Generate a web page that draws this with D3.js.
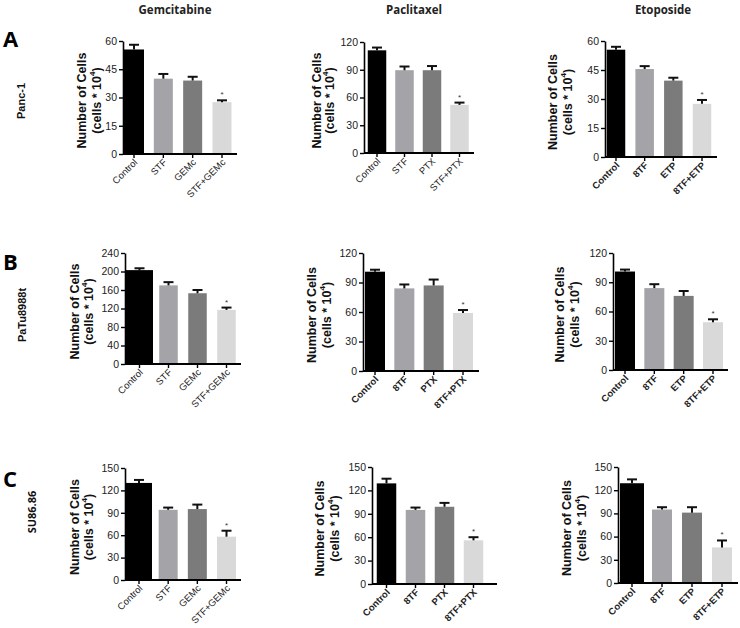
<!DOCTYPE html>
<html>
<head>
<meta charset="utf-8">
<script src="https://cdn.jsdelivr.net/npm/d3@7"></script>
<style>
  html, body { margin: 0; padding: 0; background: #fff; }
  svg { display: block; }
</style>
</head>
<body>
<svg id="chart" width="740" height="628"></svg>
<script>
// ---------- DATA ----------
const drugs = ["Gemcitabine", "Paclitaxel", "Etoposide"];
const cellLines = ["Panc-1", "PaTu8988t", "SU86.86"];
const rowLetters = ["A", "B", "C"];

const catsGemc = ["Control", "STF", "GEMc", "STF+GEMc"];
const catsPtxA = ["Control", "STF", "PTX", "STF+PTX"];
const catsPtx = ["Control", "8TF", "PTX", "8TF+PTX"];
const catsEtp = ["Control", "8TF", "ETP", "8TF+ETP"];

const ticksA = [[0, 15, 30, 45, 60], [0, 30, 60, 90, 120], [0, 15, 30, 45, 60]];
const ticksB = [[0, 40, 80, 120, 160, 200, 240], [0, 30, 60, 90, 120], [0, 30, 60, 90, 120]];
const ticksC = [[0, 30, 60, 90, 120, 150], [0, 30, 60, 90, 120, 150], [0, 30, 60, 90, 120, 150]];

const panc1Gemc = [55.5, 40, 39, 27.5];
const panc1GemcErr = [2.5, 2.5, 2, 1];
const panc1Ptx = [111, 89.5, 89.5, 52];
const panc1PtxErr = [3, 4, 4.5, 2.5];
const panc1Etp = [55.5, 45.5, 39.5, 27.5];
const panc1EtpErr = [1.5, 1.5, 1.5, 2];

const patuGemc = [203, 170, 153, 117];
const patuGemcErr = [4, 7, 7, 5];
const patuPtx = [101, 84, 87, 59];
const patuPtxErr = [2, 4, 6, 3];
const patuEtp = [101, 84, 76, 49];
const patuEtpErr = [2, 4, 5, 3];

const suGemc = [130, 94, 95, 58];
const suGemcErr = [4, 3, 6, 8];
const suPtx = [129, 95, 99, 56];
const suPtxErr = [6, 3, 5, 4];
const suEtp = [129, 95, 91, 46];
const suEtpErr = [5, 3, 7, 9];

const significant = [false, false, false, true];

// ---------- STYLE / LAYOUT ----------
const barColors = ["#000000", "#a3a3a8", "#7b7b7b", "#d9d9d9"];

const layouts = [
  [ {ax:123, top:41, bot:154, c0:134, c3:222, bw:19, cw:20, xe:237, l1:-41, l2:-26},
    {ax:364, top:42, bot:153, c0:377, c3:459.5, bw:18.5, cw:18.5, xe:474, l1:-47, l2:-34},
    {ax:605, top:41, bot:157, c0:616, c3:702, bw:18.5, cw:18.5, xe:717, l1:-52, l2:-37} ],
  [ {ax:125, top:253, bot:364, c0:139.5, c3:226.5, bw:18.5, cw:27, xe:241, l1:-50, l2:-36},
    {ax:363, top:253, bot:371, c0:375, c3:463, bw:20, cw:20, xe:479, l1:-51, l2:-36},
    {ax:613, top:253, bot:370, c0:625, c3:713, bw:20, cw:20, xe:728, l1:-53, l2:-38} ],
  [ {ax:125, top:468, bot:580, c0:139, c3:226.5, bw:19, cw:26, xe:241, l1:-50, l2:-36},
    {ax:372, top:467, bot:584, c0:386.5, c3:473.5, bw:19.5, cw:19.5, xe:497, l1:-52, l2:-37},
    {ax:618, top:467, bot:583, c0:632, c3:722, bw:20, cw:24, xe:738, l1:-51, l2:-36} ]
];

const panels = [
  [ {cats: catsGemc, vals: panc1Gemc, errs: panc1GemcErr, ticks: ticksA[0]},
    {cats: catsPtxA, vals: panc1Ptx, errs: panc1PtxErr, ticks: ticksA[1]},
    {cats: catsEtp, vals: panc1Etp, errs: panc1EtpErr, ticks: ticksA[2]} ],
  [ {cats: catsGemc, vals: patuGemc, errs: patuGemcErr, ticks: ticksB[0]},
    {cats: catsPtx, vals: patuPtx, errs: patuPtxErr, ticks: ticksB[1]},
    {cats: catsEtp, vals: patuEtp, errs: patuEtpErr, ticks: ticksB[2]} ],
  [ {cats: catsGemc, vals: suGemc, errs: suGemcErr, ticks: ticksC[0]},
    {cats: catsPtx, vals: suPtx, errs: suPtxErr, ticks: ticksC[1]},
    {cats: catsEtp, vals: suEtp, errs: suEtpErr, ticks: ticksC[2]} ]
];

const svg = d3.select("#chart");
const font = "'Liberation Sans', Arial, sans-serif";

// column headers
const headerX = [175, 414, 663];
svg.selectAll("text.header").data(drugs).join("text")
  .attr("class", "header")
  .attr("x", (d, i) => headerX[i]).attr("y", 14)
  .attr("text-anchor", "middle")
  .attr("font-family", "'Open Sans', sans-serif")
  .attr("font-weight", 700).attr("font-size", 11.5)
  .attr("fill", "#222")
  .text(d => d);

// row letters and cell line labels
const letterY = [47, 270, 487];
const rowLabelY = [101, 315, 512];
const rowLabelX = [21, 22, 31];
svg.selectAll("text.letter").data(rowLetters).join("text")
  .attr("class", "letter")
  .attr("x", 3).attr("y", (d, i) => letterY[i])
  .attr("font-family", "'Open Sans', sans-serif")
  .attr("font-weight", 700).attr("font-size", 22)
  .attr("fill", "#000")
  .text(d => d);
svg.selectAll("text.rowlabel").data(cellLines).join("text")
  .attr("class", "rowlabel")
  .attr("transform", (d, i) => `translate(${rowLabelX[i]},${rowLabelY[i]}) rotate(-90)`)
  .attr("text-anchor", "middle")
  .attr("dominant-baseline", "central")
  .attr("font-family", (d, i) => i === 2 ? "'Open Sans', sans-serif" : font)
  .attr("font-weight", 700).attr("font-size", 11)
  .attr("fill", "#111")
  .text(d => d);

panels.forEach((row, ri) => {
  row.forEach((p, ci) => {
    const L = layouts[ri][ci];
    const g = svg.append("g");
    const yMax = d3.max(p.ticks);
    const y = d3.scaleLinear().domain([0, yMax]).range([L.bot, L.top]);
    const x = d3.scalePoint().domain(p.cats).range([L.c0, L.c3]);
    const widthOf = (i) => i === 0 ? L.cw : L.bw;

    g.selectAll("rect.bar").data(p.vals).join("rect")
      .attr("x", (d, i) => x(p.cats[i]) - widthOf(i) / 2)
      .attr("width", (d, i) => widthOf(i))
      .attr("y", d => y(d))
      .attr("height", d => y(0) - y(d))
      .attr("fill", (d, i) => barColors[i]);

    g.selectAll("line.err").data(p.vals).join("line")
      .attr("x1", (d, i) => x(p.cats[i])).attr("x2", (d, i) => x(p.cats[i]))
      .attr("y1", d => y(d)).attr("y2", (d, i) => y(d + p.errs[i]))
      .attr("stroke", "#111").attr("stroke-width", 2);
    g.selectAll("line.cap").data(p.vals).join("line")
      .attr("x1", (d, i) => x(p.cats[i]) - 5).attr("x2", (d, i) => x(p.cats[i]) + 5)
      .attr("y1", (d, i) => y(d + p.errs[i])).attr("y2", (d, i) => y(d + p.errs[i]))
      .attr("stroke", "#111").attr("stroke-width", 2);

    g.selectAll("text.sig").data(p.vals.map((v, i) => ({v, i})).filter(d => significant[d.i])).join("text")
      .attr("x", d => x(p.cats[d.i]))
      .attr("y", d => y(d.v + p.errs[d.i]) - 3)
      .attr("text-anchor", "middle")
      .attr("font-family", font).attr("font-size", 8).attr("fill", "#333")
      .text("*");

    const yAxis = d3.axisLeft(y).tickValues(p.ticks).tickSize(4).tickPadding(2).tickSizeOuter(0);
    const ya = g.append("g").attr("transform", `translate(${L.ax},0)`).call(yAxis);
    ya.select(".domain").attr("stroke", "#000").attr("stroke-width", 1.6);
    ya.selectAll(".tick line").attr("stroke", "#000").attr("stroke-width", 1.4);
    ya.selectAll(".tick text").attr("font-family", font).attr("font-size", 10.5).attr("fill", "#222");

    const xs = d3.scaleLinear().domain([0, 1]).range([L.ax, L.xe]);
    g.append("line")
      .attr("x1", xs(0)).attr("x2", xs(1))
      .attr("y1", y(0)).attr("y2", y(0))
      .attr("stroke", "#000").attr("stroke-width", 1.8);
    g.selectAll("line.xtick").data(p.cats).join("line")
      .attr("x1", d => x(d)).attr("x2", d => x(d))
      .attr("y1", y(0)).attr("y2", y(0) + 4)
      .attr("stroke", "#000").attr("stroke-width", 1.4);
    g.selectAll("text.xlab").data(p.cats).join("text")
      .attr("transform", d => `translate(${x(d) + 4},${y(0) + 9}) rotate(-45)`)
      .attr("text-anchor", "end")
      .attr("font-family", font)
      .attr("font-weight", (ci === 0 || (ri === 0 && ci === 1)) ? 400 : 700)
      .attr("font-size", 9.5).attr("fill", "#222")
      .text(d => d);

    const midY = (L.top + L.bot) / 2 + 3;
    g.append("text")
      .attr("transform", `translate(${L.ax + L.l1},${midY}) rotate(-90)`)
      .attr("text-anchor", "middle").attr("dominant-baseline", "central")
      .attr("font-family", font).attr("font-weight", 700).attr("font-size", 12.5)
      .attr("fill", "#111")
      .text("Number of Cells");
    const t2 = g.append("text")
      .attr("transform", `translate(${L.ax + L.l2},${midY}) rotate(-90)`)
      .attr("text-anchor", "middle").attr("dominant-baseline", "central")
      .attr("font-family", font).attr("font-weight", 700).attr("font-size", 12.5)
      .attr("fill", "#111");
    t2.append("tspan").text("(cells * 10");
    t2.append("tspan").attr("font-size", 8).attr("dy", -5).text("4");
    t2.append("tspan").attr("dy", 5).text(")");
  });
});
</script>
</body>
</html>
